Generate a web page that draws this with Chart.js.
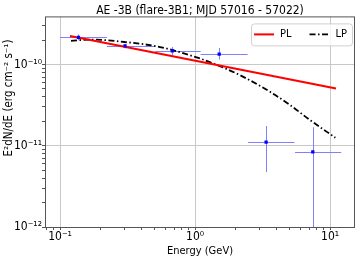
<!DOCTYPE html>
<html>
<head>
<meta charset="utf-8">
<script src="https://cdn.jsdelivr.net/npm/chart.js@4"></script>
<style>
  html, body { margin: 0; padding: 0; background: #fff; }
  #wrap { width: 360px; height: 263px; }
</style>
</head>
<body>
<div id="wrap"><canvas id="sed"></canvas></div>
<script>
// SED of AE -3B, flare-3B1 — log-log, matplotlib-ish look

const energy   = [0.137, 0.303, 0.679, 1.51, 3.36, 7.45];   // GeV
const energyLo = [0.100, 0.222, 0.506, 1.10, 2.47, 5.50];
const energyHi = [0.222, 0.506, 1.10, 2.45, 5.45, 12.1];
const flux     = [2.16e-10, 1.69e-10, 1.47e-10, 1.34e-10, 1.11e-11, 8.40e-12];
const fluxLo   = [1.99e-10, 1.58e-10, 1.30e-10, 1.15e-10, 4.73e-12, 1e-13];
const fluxHi   = [2.35e-10, 1.80e-10, 1.64e-10, 1.60e-10, 1.75e-11, 1.69e-11];

// power law fit (straight in log-log)
const plEnergy = [0.1186, 11.07];
const plFlux   = [2.24e-10, 5.08e-11];

// log parabola fit
const lpEnergy = [0.1206, 0.1668, 0.303, 0.551, 1.089, 1.51, 2.154, 3.594, 5.054, 7.11, 10.94];
const lpFlux   = [1.95e-10, 2.03e-10, 1.89e-10, 1.64e-10, 1.185e-10, 9.61e-11, 7.39e-11, 4.61e-11, 3.17e-11, 2.07e-11, 1.256e-11];

const xTickValues = [0.1, 1, 10];
const xTickLabels = ['10⁻¹', '10⁰', '10¹'];
const yTickValues = [1e-12, 1e-11, 1e-10];
const yTickLabels = ['10⁻¹²', '10⁻¹¹', '10⁻¹⁰'];

const FONT = '"DejaVu Sans Condensed", "DejaVu Sans", sans-serif';
Chart.defaults.font.family = FONT;
Chart.defaults.color = '#000';

const toXY = (xs, ys) => xs.map((x, i) => ({ x, y: ys[i] }));
const isDecade = v => Math.abs(Math.log10(v) - Math.round(Math.log10(v))) < 1e-6;

function logTicks(min, max) {
  const out = [];
  for (let d = Math.floor(Math.log10(min)); d <= Math.ceil(Math.log10(max)); d++) {
    for (let m = 1; m < 10; m++) {
      const v = m * Math.pow(10, d);
      if (v >= min && v <= max) out.push({ value: v });
    }
  }
  return out;
}

function labelFor(values, labels, v) {
  const i = values.findIndex(t => Math.abs(Math.log10(t) - Math.log10(v)) < 1e-6);
  return i < 0 ? '' : labels[i];
}

// horizontal + vertical error bars under the markers
const errorBars = {
  id: 'errorBars',
  beforeDatasetsDraw(chart) {
    const { ctx, chartArea: a, scales: { x, y } } = chart;
    ctx.save();
    ctx.beginPath();
    ctx.rect(a.left, a.top, a.right - a.left, a.bottom - a.top);
    ctx.clip();
    ctx.strokeStyle = '#7f7fff';
    ctx.lineWidth = 1;
    energy.forEach((e, i) => {
      const px = Math.round(x.getPixelForValue(e)) + 0.5;
      const py = Math.round(y.getPixelForValue(flux[i])) + 0.5;
      ctx.beginPath();
      ctx.moveTo(x.getPixelForValue(energyLo[i]), py);
      ctx.lineTo(x.getPixelForValue(energyHi[i]), py);
      ctx.moveTo(px, y.getPixelForValue(fluxLo[i]));
      ctx.lineTo(px, y.getPixelForValue(fluxHi[i]));
      ctx.stroke();
    });
    ctx.restore();
  }
};

// axes frame, framed legend (upper right) and the rotated y label
const decor = {
  id: 'decor',
  afterDraw(chart) {
    const { ctx, chartArea: a } = chart;
    ctx.save();
    ctx.strokeStyle = '#555';
    ctx.lineWidth = 1;
    ctx.strokeRect(a.left + 0.5, a.top + 0.5, a.right - a.left - 1, a.bottom - a.top);

    // legend
    ctx.font = '11px ' + FONT;
    const items = chart.data.datasets.filter(ds => ds.showLine !== false);
    const widths = items.map(ds => ctx.measureText(ds.label).width);
    const lineLen = 20, gap = 6, itemGap = 18;
    const boxW = 3 + widths.reduce((s, w) => s + lineLen + gap + w, 0) + itemGap * (items.length - 1) + 5;
    const boxH = 22;
    const bx = a.right - 3 - boxW, by = a.top + 7;
    ctx.fillStyle = 'rgba(255,255,255,0.8)';
    ctx.strokeStyle = '#d0d0d0';
    ctx.beginPath();
    ctx.roundRect(Math.round(bx) + 0.5, by + 0.5, Math.round(boxW), boxH, 3);
    ctx.fill();
    ctx.stroke();
    let cx = bx + 3;
    const cy = by + boxH / 2;
    items.forEach((ds, i) => {
      ctx.strokeStyle = ds.borderColor;
      ctx.lineWidth = ds.borderWidth;
      ctx.setLineDash(ds.borderDash || []);
      ctx.beginPath();
      ctx.moveTo(cx, cy);
      ctx.lineTo(cx + lineLen, cy);
      ctx.stroke();
      ctx.setLineDash([]);
      ctx.fillStyle = '#000';
      ctx.textAlign = 'left';
      ctx.textBaseline = 'middle';
      ctx.fillText(ds.label, cx + lineLen + gap, cy);
      cx += lineLen + gap + widths[i] + itemGap;
    });

    // y axis label
    ctx.translate(9, 98);
    ctx.rotate(-Math.PI / 2);
    ctx.font = '11.5px ' + FONT;
    ctx.fillStyle = '#000';
    ctx.textAlign = 'center';
    ctx.textBaseline = 'middle';
    ctx.fillText('E²dN/dE (erg cm⁻² s⁻¹)', 0, 0);
    ctx.restore();
  }
};

new Chart(document.getElementById('sed'), {
  type: 'line',
  data: {
    datasets: [
      {
        label: 'data',
        data: toXY(energy, flux),
        showLine: false,
        pointStyle: 'rect',
        pointRadius: 2.3,
        backgroundColor: '#0000ff',
        borderColor: '#0000ff',
        borderWidth: 0
      },
      {
        label: 'PL',
        data: toXY(plEnergy, plFlux),
        borderColor: '#ff0000',
        backgroundColor: '#ff0000',
        borderWidth: 2,
        pointRadius: 0
      },
      {
        label: 'LP',
        data: toXY(lpEnergy, lpFlux),
        borderColor: '#000',
        backgroundColor: '#000',
        borderWidth: 1.8,
        borderDash: [6, 2.5, 1.5, 2.5],
        cubicInterpolationMode: 'monotone',
        pointRadius: 0
      }
    ]
  },
  options: {
    responsive: true,
    maintainAspectRatio: false,
    animation: false,
    layout: { padding: { left: 0, right: 5, top: 0, bottom: 0 } },
    plugins: {
      title: {
        display: true,
        fullSize: false,
        text: 'AE -3B (flare-3B1; MJD 57016 - 57022)',
        font: { size: 12, weight: 'normal', lineHeight: 0.9 },
        padding: { top: 5.6, bottom: 0 }
      },
      legend: { display: false },
      tooltip: { enabled: false }
    },
    scales: {
      x: {
        type: 'logarithmic',
        min: 0.0774,
        max: 15.3,
        afterBuildTicks: s => { s.ticks = logTicks(s.min, s.max); },
        afterFit: s => { s.height = 36; },
        ticks: {
          autoSkip: false,
          maxRotation: 0,
          padding: 0,
          font: { size: 12 },
          callback: v => labelFor(xTickValues, xTickLabels, v)
        },
        grid: {
          color: c => (c.tick && isDecade(c.tick.value) ? '#c8c8c8' : 'rgba(0,0,0,0)'),
          tickColor: '#555',
          tickLength: 3
        },
        border: { display: false },
        title: {
          display: true,
          text: 'Energy (GeV)',
          font: { size: 11 },
          padding: { top: 0, bottom: 5 }
        }
      },
      y: {
        type: 'logarithmic',
        min: 1e-12,
        max: 3.91e-10,
        afterBuildTicks: s => { s.ticks = logTicks(s.min, s.max); },
        afterFit: s => { s.width = 45; },
        ticks: {
          autoSkip: false,
          padding: 0,
          font: { size: 12 },
          callback: v => labelFor(yTickValues, yTickLabels, v)
        },
        grid: {
          color: c => (c.tick && isDecade(c.tick.value) ? '#c8c8c8' : 'rgba(0,0,0,0)'),
          tickColor: '#555',
          tickLength: 3
        },
        border: { display: false }
      }
    }
  },
  plugins: [errorBars, decor]
});
</script>
</body>
</html>
